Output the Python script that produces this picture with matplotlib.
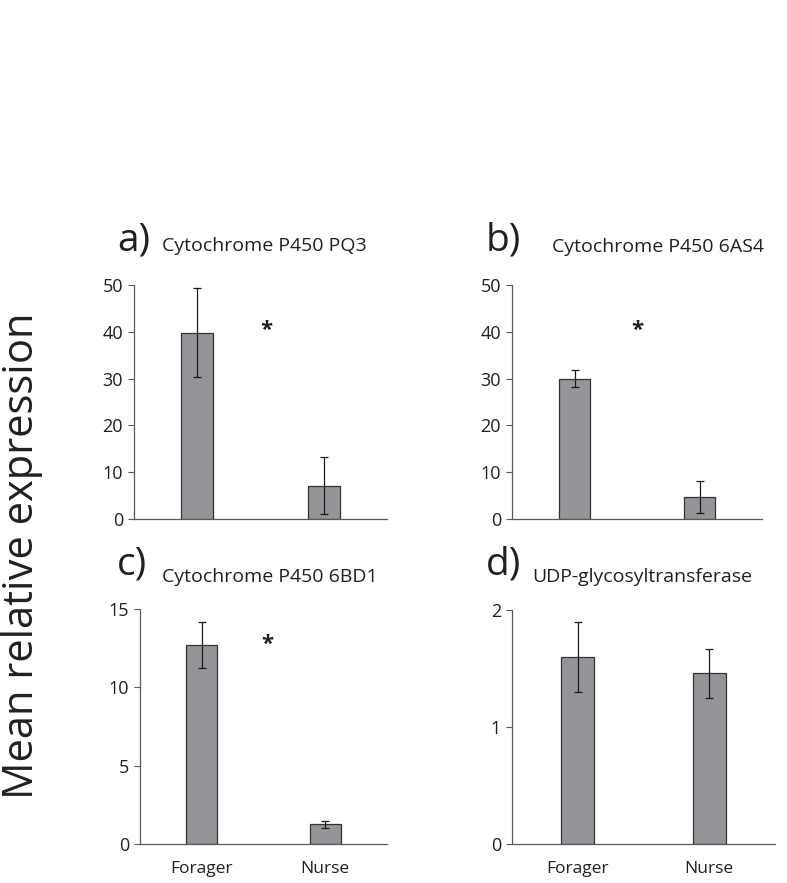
import matplotlib
matplotlib.use('Agg')
import matplotlib.pyplot as plt

plt.rcParams['font.family'] = ['Open Sans', 'DejaVu Sans']

# data
groups = ['Forager', 'Nurse']
panel_letters = ['a)', 'b)', 'c)', 'd)']
panel_titles = ['Cytochrome P450 PQ3', 'Cytochrome P450 6AS4',
                'Cytochrome P450 6BD1', 'UDP-glycosyltransferase']
means_a = [39.8, 7.1]
errs_a = [9.5, 6.1]
means_b = [30.0, 4.7]
errs_b = [1.85, 3.5]
means_c = [12.7, 1.27]
errs_c = [1.45, 0.23]
means_d = [1.60, 1.46]
errs_d = [0.30, 0.21]
ymax = [50, 50, 15, 2]
yticks = [[0, 10, 20, 30, 40, 50], [0, 10, 20, 30, 40, 50],
          [0, 5, 10, 15], [0, 1, 2]]
# significance asterisk (x in category units, y in data units), None = no mark
stars = [(0.55, 40.2), (0.5, 40.2), (0.53, 12.75), None]

W, H = 787, 883
fig = plt.figure(figsize=(W / 100, H / 100), dpi=100)

# axes boxes in pixels: left, right, top, bottom
boxes = [(134, 387, 285, 519), (512, 762, 285, 519),
         (140, 387, 609, 844), (512, 775, 610, 844)]
# title positions in pixels: letter x, letter baseline, title x, title baseline
title_pos = [(117, 251, 162, 251), (486, 251, 552, 252),
             (117, 575, 162, 582), (486, 575, 532, 582)]

all_means = [means_a, means_b, means_c, means_d]
all_errs = [errs_a, errs_b, errs_c, errs_d]

bar_color = '#939598'
edge_color = '#333333'
spine_color = '#595959'
text_color = '#231f20'

for i in range(4):
    l, r, t, b = boxes[i]
    ax = fig.add_axes([l / W, 1 - b / H, (r - l) / W, (b - t) / H])
    ax.bar(range(len(groups)), all_means[i], width=0.25, color=bar_color,
           edgecolor=edge_color, linewidth=0.9, zorder=2)
    ax.errorbar(range(len(groups)), all_means[i], yerr=all_errs[i], fmt='none',
                ecolor='#1a1a1a', elinewidth=0.9, capsize=3, capthick=0.9, zorder=3)
    ax.set_xlim(-0.5, 1.5)
    ax.set_ylim(0, ymax[i])
    ax.set_yticks(yticks[i])
    ax.tick_params(axis='y', direction='out', length=4, width=0.8,
                   color=spine_color, labelsize=13, labelcolor=text_color, pad=4)
    if i >= 2:
        ax.set_xticks(range(len(groups)))
        ax.set_xticklabels(groups)
        ax.tick_params(axis='x', length=0, labelsize=12.5,
                       labelcolor=text_color, pad=12)
    else:
        ax.set_xticks([])
    for s in ['top', 'right']:
        ax.spines[s].set_visible(False)
    for s in ['left', 'bottom']:
        ax.spines[s].set_color(spine_color)
        ax.spines[s].set_linewidth(0.9)
    if stars[i] is not None:
        ax.text(stars[i][0], stars[i][1], '*', ha='center', va='center',
                fontsize=16, fontweight='bold', color=text_color)

    lx, ly, tx, ty = title_pos[i]
    fig.text(lx / W, 1 - ly / H, panel_letters[i], fontsize=28,
             ha='left', va='baseline', color=text_color)
    fig.text(tx / W, 1 - ty / H, panel_titles[i], fontsize=14,
             ha='left', va='baseline', color=text_color)

fig.text(22 / W, 1 - 556 / H, 'Mean relative expression', rotation=90,
         fontsize=30, ha='center', va='center', color=text_color)

fig.savefig('out.png', dpi=100)
